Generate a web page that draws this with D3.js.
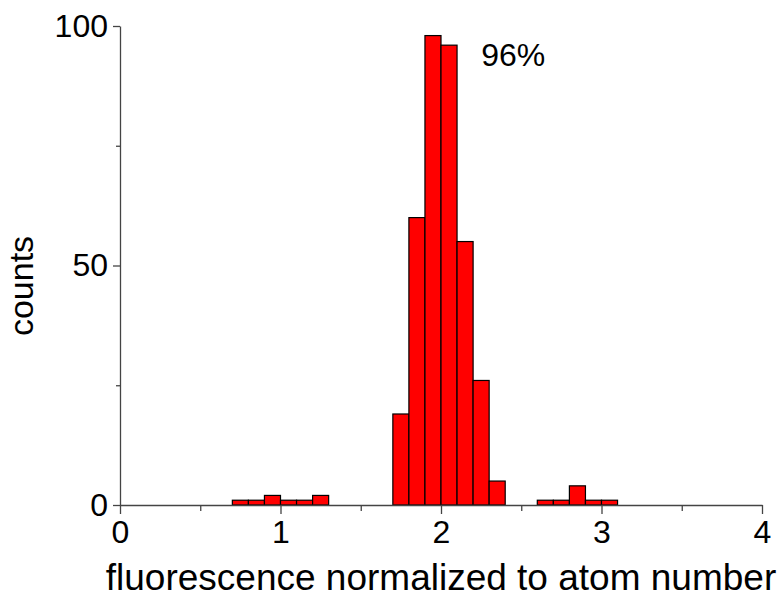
<!DOCTYPE html>
<meta charset="utf-8">
<style>
body { margin: 0; background: white; }
svg { display: block; }
.axis path, .axis line { stroke: #444; stroke-width: 1.3px; }
.axis text { font-family: 'Liberation Sans', Arial, sans-serif; font-size: 32px; fill: #000; }
.bars rect { fill: #ff0000; stroke: #000; stroke-width: 1.2px; }
.label { font-family: 'Liberation Sans', Arial, sans-serif; fill: #000; }
</style>
<svg id="chart" width="783" height="598"></svg>
<script src="https://d3js.org/d3.v7.min.js"></script>
<script>

// histogram bins (left edge), all 0.1 wide
const binStarts = [0.7, 0.8, 0.9, 1.0, 1.1, 1.2,
                   1.7, 1.8, 1.9, 2.0, 2.1, 2.2, 2.3,
                   2.6, 2.7, 2.8, 2.9, 3.0];
const counts = [1, 1, 2, 1, 1, 2,
                19, 60, 98, 96, 55, 26, 5,
                1, 1, 4, 1, 1];
const binWidth = 0.1;

const xTicks = [0, 1, 2, 3, 4];
const xMinorTicks = [0.5, 1.5, 2.5, 3.5];
const yTicks = [0, 50, 100];
const yMinorTicks = [25, 75];

var svg = d3.select("#chart");

var x = d3.scaleLinear().domain([0, 4]).range([120, 762]);
var y = d3.scaleLinear().domain([0, 100]).range([505, 26]);

var bins = binStarts.map(function(b, i) { return {x0: b, x1: b + binWidth, n: counts[i]}; });

svg.append("g")
    .attr("class", "bars")
  .selectAll("rect")
  .data(bins)
  .enter().append("rect")
    .attr("x", function(d) { return x(d.x0); })
    .attr("width", function(d) { return x(d.x1) - x(d.x0); })
    .attr("y", function(d) { return y(d.n); })
    .attr("height", function(d) { return y(0) - y(d.n); });

// minor ticks first, then the main axes on top
svg.append("g")
    .attr("class", "axis")
    .attr("transform", "translate(0," + y(0) + ")")
    .call(d3.axisBottom(x).tickValues(xMinorTicks).tickSize(6).tickFormat(""))
    .select(".domain").remove();

svg.append("g")
    .attr("class", "axis")
    .attr("transform", "translate(" + x(0) + ",0)")
    .call(d3.axisLeft(y).tickValues(yMinorTicks).tickSize(4).tickFormat(""))
    .select(".domain").remove();

svg.append("g")
    .attr("class", "axis")
    .attr("transform", "translate(0," + y(0) + ")")
    .call(d3.axisBottom(x).tickValues(xTicks).tickSize(9).tickSizeOuter(0).tickPadding(6).tickFormat(d3.format("d")));

svg.append("g")
    .attr("class", "axis")
    .attr("transform", "translate(" + x(0) + ",0)")
    .call(d3.axisLeft(y).tickValues(yTicks).tickSize(7).tickSizeOuter(0).tickPadding(5).tickFormat(d3.format("d")));

svg.append("text")
    .attr("class", "label")
    .attr("x", (x(0) + x(4)) / 2)
    .attr("y", 590)
    .attr("text-anchor", "middle")
    .style("font-size", "37px")
    .text("fluorescence normalized to atom number");

svg.append("text")
    .attr("class", "label")
    .attr("transform", "translate(33,286) rotate(-90)")
    .attr("text-anchor", "middle")
    .style("font-size", "34px")
    .text("counts");

svg.append("text")
    .attr("class", "label")
    .attr("x", x(2.25))
    .attr("y", y(91.6))
    .style("font-size", "32px")
    .text("96%");

</script>
